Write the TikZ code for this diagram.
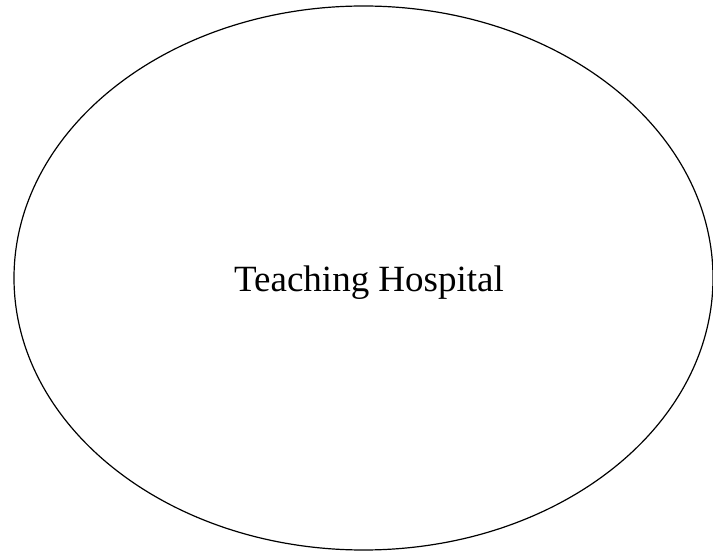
\documentclass[tikz,border=0pt]{standalone}
\usepackage{fontspec}
\setmainfont{Liberation Serif}
\usetikzlibrary{shapes.geometric}

\begin{document}
\begin{tikzpicture}[x=1pt,y=-1pt,
    region/.style={ellipse,draw,line width=1.2pt,inner sep=0pt,
                   minimum width=699pt,minimum height=544pt},
    title/.style={font=\fontsize{37}{44}\selectfont,anchor=base,inner sep=0pt}]
    \useasboundingbox (0,0) rectangle (713,553);
    \node[region] (hospital) at (363.5,278) {};
    \node[title]  (name)     at (369,292)   {Teaching Hospital};
\end{tikzpicture}
\end{document}
